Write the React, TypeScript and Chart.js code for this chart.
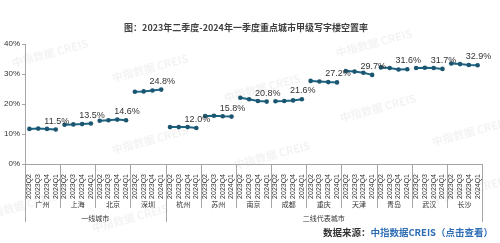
import React, { useEffect, useRef } from "react";
import { Chart, registerables } from "chart.js";

Chart.register(...registerables);

const title = "图：2023年二季度-2024年一季度重点城市甲级写字楼空置率";
const quarters = ["2023Q2", "2023Q3", "2023Q4", "2024Q1"];
const cities = ["广州", "上海", "北京", "深圳", "杭州", "苏州", "南京", "成都", "重庆", "天津", "青岛", "武汉", "长沙"];
const groups = ["一线城市", "二线代表城市"];
const groupSizes = [4, 9];
const vacancy = [
  11.7, 11.8, 11.7, 11.5,
  13.1, 13.2, 13.3, 13.5,
  14.4, 14.6, 14.8, 14.6,
  24.1, 24.2, 24.5, 24.8,
  12.3, 12.3, 12.3, 12.0,
  16.0, 16.1, 15.9, 15.8,
  22.1, 21.6, 21.0, 20.8,
  20.9, 21.0, 21.2, 21.6,
  27.7, 27.5, 27.3, 27.2,
  31.0, 30.8, 30.4, 29.7,
  32.2, 32.0, 31.5, 31.6,
  32.0, 32.1, 32.0, 31.7,
  33.5, 33.3, 33.0, 32.9,
];
const yTicks = [0, 10, 20, 30, 40];
const sourceLabel = "数据来源：";
const sourceName = "中指数据CREIS（点击查看）";
const watermarkText = "中指数据 CREIS";

const labels: string[] = [];
cities.forEach(() => quarters.forEach((q) => labels.push(q)));

const LINE = "#1d6584";
const FONT = "'Liberation Sans', Arial, sans-serif";
const CJK = "'Noto Sans CJK SC', sans-serif";

// faint background watermark anchors (decoration only)
const watermarks: [number, number][] = [
  [50, 53], [150, 68], [150, 140], [262, 88], [272, 155],
  [374, 43], [378, 108], [470, 132], [130, 218], [20, 206], [470, 190],
];

const background = {
  id: "background",
  beforeDraw(chart: any) {
    const { ctx } = chart;
    ctx.save();
    ctx.fillStyle = "#fff";
    ctx.fillRect(0, 0, chart.width, chart.height);
    ctx.fillStyle = "rgba(120,120,120,0.09)";
    ctx.font = `bold 11px ${CJK}`;
    ctx.textAlign = "center";
    ctx.textBaseline = "middle";
    watermarks.forEach(([wx, wy]) => {
      ctx.save();
      ctx.translate(wx, wy);
      ctx.rotate(-0.26);
      ctx.fillText(watermarkText, 0, 0);
      ctx.restore();
    });
    ctx.restore();
  },
};

const extras = {
  id: "extras",
  afterDraw(chart: any) {
    const { ctx, chartArea } = chart;
    const x = chart.scales.x;
    const y = chart.scales.y;
    ctx.save();
    ctx.fillStyle = "#404040";
    ctx.font = `bold 9px ${CJK}`;
    ctx.textAlign = "center";
    ctx.textBaseline = "middle";
    ctx.fillText(title, 246, 28);

    ctx.font = `9px ${FONT}`;
    ctx.fillStyle = "#333";
    ctx.textBaseline = "alphabetic";
    cities.forEach((_, ci) => {
      const i = ci * 4 + 3;
      const px = x.getPixelForValue(i);
      const py = y.getPixelForValue(vacancy[i]);
      ctx.fillText(vacancy[i].toFixed(1) + "%", px + 1, py - 6);
    });

    const half = (x.getPixelForValue(1) - x.getPixelForValue(0)) / 2;
    const bottom = chartArea.bottom;
    ctx.strokeStyle = "#a6a6a6";
    ctx.lineWidth = 1;
    const groupEnds = new Set<number>();
    let acc = 0;
    groupSizes.forEach((s) => { acc += s; groupEnds.add(acc); });
    for (let c = 0; c <= cities.length; c++) {
      const sx = Math.round(x.getPixelForValue(c * 4) - half) + 0.5;
      const isGroup = c === 0 || groupEnds.has(c);
      ctx.beginPath();
      ctx.moveTo(sx, bottom);
      ctx.lineTo(sx, isGroup ? 222 : 208);
      ctx.stroke();
    }
    ctx.fillStyle = "#333";
    ctx.font = `7px ${CJK}`;
    ctx.textAlign = "center";
    ctx.textBaseline = "middle";
    cities.forEach((name, ci) => {
      const cx = (x.getPixelForValue(ci * 4) + x.getPixelForValue(ci * 4 + 3)) / 2;
      ctx.fillText(name, cx, 204);
    });
    let start = 0;
    groups.forEach((g, k) => {
      const end = start + groupSizes[k];
      const cx = (x.getPixelForValue(start * 4) + x.getPixelForValue(end * 4 - 1)) / 2;
      ctx.fillText(g, cx, 218);
      start = end;
    });

    ctx.font = `bold 9.5px ${CJK}`;
    ctx.textAlign = "left";
    ctx.textBaseline = "middle";
    const w1 = ctx.measureText(sourceLabel).width;
    const w2 = ctx.measureText(sourceName).width;
    const sx0 = 493 - w1 - w2;
    ctx.fillStyle = "#333";
    ctx.fillText(sourceLabel, sx0, 232);
    ctx.fillStyle = "#2f6eb5";
    ctx.fillText(sourceName, sx0 + w1, 232);
    ctx.restore();
  },
};

export default function App() {
  const ref = useRef<HTMLCanvasElement>(null);
  useEffect(() => {
    document.body.style.margin = "0";
    const chart = new Chart(ref.current!, {
      type: "line",
      data: {
        labels,
        datasets: [
          {
            data: vacancy,
            borderColor: LINE,
            backgroundColor: "#1b5570",
            borderWidth: 2,
            pointRadius: 2.3,
            pointBorderWidth: 0,
            pointBackgroundColor: "#1b5570",
            tension: 0,
            segment: {
              borderColor: (c: any) => (c.p0DataIndex % 4 === 3 ? "rgba(0,0,0,0)" : LINE),
            },
          },
        ],
      },
      options: {
        animation: false,
        responsive: false,
        maintainAspectRatio: false,
        layout: { padding: { top: 44, right: 18, bottom: 0, left: 0 } },
        plugins: { legend: { display: false }, tooltip: { enabled: false } },
        scales: {
          x: {
            offset: true,
            grid: { display: false },
            border: { display: true, color: "#a6a6a6" },
            ticks: {
              autoSkip: false,
              minRotation: 90,
              maxRotation: 90,
              padding: 2,
              color: "#333",
              font: { size: 7, family: FONT },
            },
            afterFit: (s: any) => { s.height = 79; },
          },
          y: {
            min: 0,
            max: 40,
            afterBuildTicks: (s: any) => { s.ticks = yTicks.map((v) => ({ value: v })); },
            grid: { drawOnChartArea: false, drawTicks: true, tickLength: 3, color: "#a6a6a6" },
            border: { display: true, color: "#a6a6a6" },
            ticks: {
              padding: 2,
              color: "#333",
              font: { size: 8, family: FONT },
              callback: (v: any) => v + "%",
            },
            afterFit: (s: any) => { s.width = 25; },
          },
        },
      },
      plugins: [background, extras],
    });
    return () => chart.destroy();
  }, []);
  return (
    <div style={{ width: 500, height: 243 }}>
      <canvas ref={ref} width={500} height={243} style={{ display: "block" }} />
    </div>
  );
}
